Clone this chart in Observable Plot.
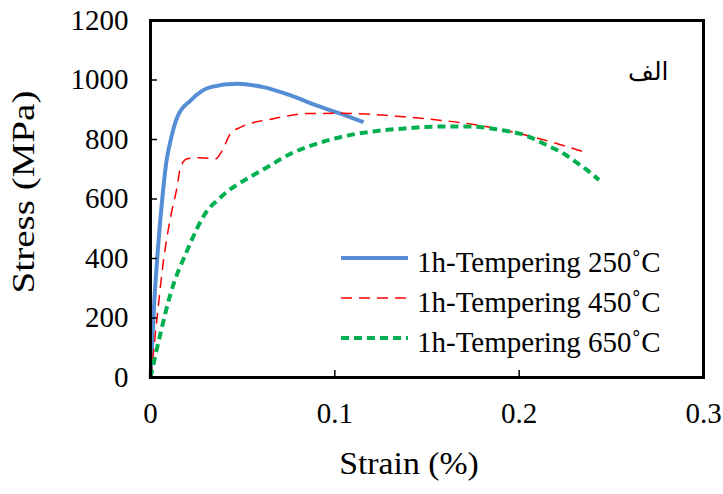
<!DOCTYPE html>
<html>
<head>
<meta charset="utf-8">
<script src="https://cdn.jsdelivr.net/npm/d3@7"></script>
<script src="https://cdn.jsdelivr.net/npm/@observablehq/plot@0.6"></script>
<style>
  body { margin: 0; background: #fff; }
  #wrap { position: relative; width: 723px; height: 494px; }
  #legend { position: absolute; left: 338px; top: 242px; font-family: "Liberation Serif", "Times New Roman", serif; font-size: 29px; line-height: 40px; color: #000; }
  #legend .row { display: flex; align-items: flex-start; height: 40px; white-space: nowrap; }
  #legend svg { margin-right: 9px; flex: none; }
</style>
</head>
<body>
<div id="wrap"></div>
<script>
const seriesNames = ["1h-Tempering 250˚C", "1h-Tempering 450˚C", "1h-Tempering 650˚C"];
const colors = ["#558ED5", "#FF0000", "#00B050"];
const widths = [4, 1.5, 4];
const dashes = [null, "11,7", "8,5"];

const strain250 = [0, 0.002, 0.004, 0.0063, 0.0085, 0.0109, 0.0145, 0.0217, 0.0326, 0.047, 0.0613, 0.076, 0.0904, 0.103, 0.1156];
const stress250 = [0, 250, 430, 595, 720, 797, 875, 931, 976, 987, 976, 948, 914, 887, 858];

const strain450 = [0, 0.001, 0.0036, 0.0072, 0.0109, 0.0144, 0.0163, 0.0199, 0.0271, 0.0353, 0.0389, 0.0434, 0.0488, 0.0667, 0.085, 0.103, 0.121, 0.1357, 0.1536, 0.1718, 0.19, 0.2078, 0.2207, 0.2377];
const stress450 = [0, 50, 203, 400, 539, 640, 707, 735, 739, 735, 763, 820, 841, 870, 887, 888, 884, 877, 867, 854, 834, 808, 786, 753];

const strain650 = [0, 0.0054, 0.0109, 0.0199, 0.0308, 0.0362, 0.0416, 0.0488, 0.0543, 0.0633, 0.076, 0.0904, 0.1067, 0.1248, 0.1357, 0.1465, 0.1591, 0.1718, 0.1827, 0.1917, 0.2008, 0.208, 0.2152, 0.2243, 0.2297, 0.236, 0.2433];
const stress650 = [0, 148, 282, 427, 561, 595, 625, 655, 675, 707, 752, 786, 813, 830, 836, 841, 844, 844, 839, 830, 819, 802, 780, 752, 729, 701, 664];

const xTicks = [0, 0.1, 0.2, 0.3];
const yTicks = [0, 200, 400, 600, 800, 1000, 1200];
const xTickLabels = ["0", "0.1", "0.2", "0.3"];

const toRows = (xs, ys) => xs.map((x, i) => ({x, y: ys[i]}));
const seriesData = [toRows(strain250, stress250), toRows(strain450, stress450), toRows(strain650, stress650)];

const font = "'Liberation Serif', 'Times New Roman', serif";

const chart = Plot.plot({
  width: 723,
  height: 494,
  marginLeft: 150,
  marginRight: 20,
  marginTop: 20,
  marginBottom: 117,
  style: {fontFamily: font, background: "#fff", color: "#000", overflow: "visible"},
  x: {domain: [0, 0.3]},
  y: {domain: [0, 1200]},
  marks: [
    ...seriesData.map((d, i) => Plot.line(d, {
      x: "x", y: "y", stroke: colors[i], strokeWidth: widths[i],
      strokeDasharray: dashes[i], curve: "monotone-x", strokeLinecap: "butt"
    })),
    Plot.axisX({ticks: xTicks, tickFormat: d => xTickLabels[xTicks.indexOf(d)], tickSize: -7, tickPadding: 32, fontSize: 29, label: null, strokeWidth: 1.5, className: "xticks"}),
    Plot.axisY({ticks: yTicks, tickFormat: d => String(d), tickSize: -7, tickPadding: 29, fontSize: 29, label: null, strokeWidth: 1.5, className: "yticks"}),
    Plot.frame({stroke: "#000", strokeWidth: 3}),
    Plot.text(["Stress (MPa)"], {frameAnchor: "left", fontSize: 31, fill: "#000", className: "ytitle"}),
    Plot.text(["Strain (%)"], {frameAnchor: "bottom", dy: 96, dx: -18, fontSize: 31, fill: "#000", className: "xtitle"}),
    Plot.text(["الف"], {frameAnchor: "top-right", dx: -35, dy: 42, fontSize: 25, fill: "#000", fontFamily: "'DejaVu Sans', 'Noto Sans', sans-serif"})
  ]
});

// enforce tick label size
chart.querySelectorAll(".xticks text, .yticks text").forEach(t => { t.style.fontSize = "29px"; });

// place the rotated y title explicitly and stretch it along its baseline to match the reference proportions
chart.querySelectorAll("g.ytitle").forEach(g => {
  g.removeAttribute("transform");
  g.querySelectorAll("text").forEach(t => {
    t.removeAttribute("x");
    t.removeAttribute("y");
    t.removeAttribute("dy");
    t.setAttribute("text-anchor", "middle");
    t.setAttribute("transform", "translate(34,192) rotate(-90) scale(1.26,1)");
  });
});
chart.querySelectorAll(".xtitle text").forEach(t => t.setAttribute("transform", (t.getAttribute("transform") || "") + " scale(1.09,1)"));

const wrap = document.getElementById("wrap");
wrap.appendChild(chart);

const legend = document.createElement("div");
legend.id = "legend";
seriesNames.forEach((name, i) => {
  const row = document.createElement("div");
  row.className = "row";
  row.innerHTML = `<svg width="70" height="40"><line x1="3" x2="70" y1="16" y2="16" stroke="${colors[i]}" stroke-width="${widths[i]}" ${dashes[i] ? `stroke-dasharray="${dashes[i]}"` : ""}/></svg><span>${name}</span>`;
  legend.appendChild(row);
});
wrap.appendChild(legend);
</script>
</body>
</html>
